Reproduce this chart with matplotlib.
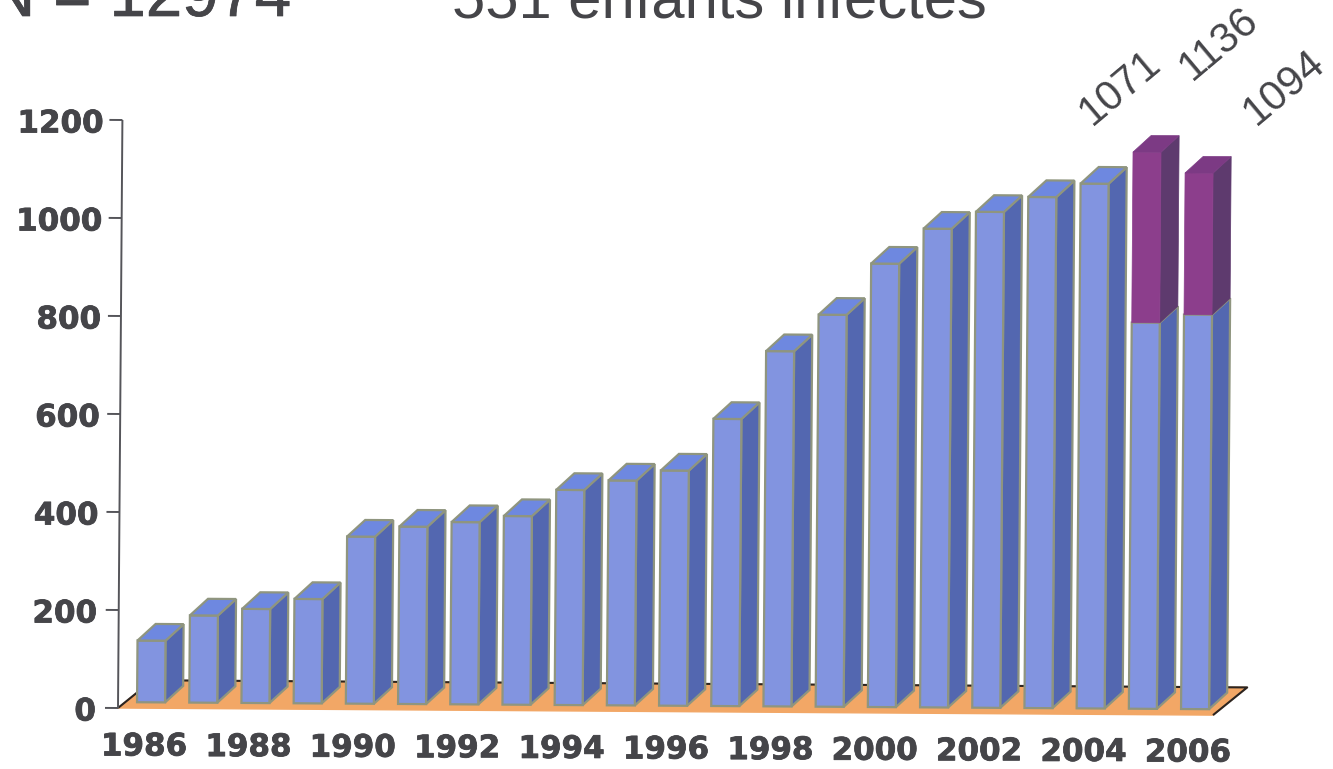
import matplotlib
matplotlib.use("Agg")
import matplotlib.pyplot as plt
import matplotlib.patheffects as pe
from matplotlib.patches import Polygon
from matplotlib.transforms import Affine2D

# Data
years = list(range(1986, 2007))
blue_values = [126, 178, 192, 213, 341, 362, 372, 385, 439, 459, 480, 586,
               725, 800, 905, 977, 1012, 1043, 1071, 788, 805]
purple_values = [0] * 19 + [348, 289]
y_ticks = [0, 200, 400, 600, 800, 1000, 1200]
value_labels = ["1071", "1136", "1094"]
title_left = "N = 12974"
title_right = "551 enfants infectés"

# Colours
TEXT = "#454549"
BLUE = ("#8294E0", "#5367B0", "#6E88E0")      # front, side, top
PURPLE = ("#8C3E8C", "#5E3A6E", "#7C3A84")
EDGE = "#8F957F"
FLOOR = "#F2A766"

W, H = 1333, 769
fig = plt.figure(figsize=(W / 100, H / 100), dpi=100, facecolor="white")

# Axes box in pixels
left, right, top, bottom = 118, 1213, 120, 708
ax = fig.add_axes([left / W, 1 - bottom / H, (right - left) / W, (bottom - top) / H])
px_per_year = 52.2
ax.set_xlim(-(151 - left) / px_per_year, (right - 151) / px_per_year)
ax.set_ylim(0, 1200)
for s in ax.spines.values():
    s.set_visible(False)
ax.patch.set_visible(False)

# Slight clockwise tilt of the whole plot
ox, oy = left, H - bottom
tilt = (Affine2D().translate(-ox, -oy)
        + Affine2D.from_values(1, -0.0065, 0.0075, 1, 0, 0)
        + Affine2D().translate(ox, oy))
trans = ax.transData + tilt


def poly(points, face, edge=None, lw=1.0, z=2):
    ax.add_patch(Polygon(points, closed=True, facecolor=face,
                         edgecolor=edge if edge else face, linewidth=lw,
                         transform=trans, clip_on=False, zorder=z,
                         joinstyle="miter"))


def line(xs, ys, color="#333338", lw=1.5, z=1.5):
    ax.plot(xs, ys, color=color, lw=lw, transform=trans, clip_on=False,
            zorder=z, solid_capstyle="butt")


# Floor of the 3D plot
x0, x1 = ax.get_xlim()
fdx, fdy = 34 / px_per_year, 57
poly([(x0, 0), (x1, 0), (x1 + fdx, fdy), (x0 + fdx, fdy)], FLOOR, z=1)
line([x0, x0 + fdx, x1 + fdx, x1], [0, fdy, fdy, 0], color="#2b2420")

# Value axis
line([x0, x0], [0, 1200], color="#55555a", lw=1.4)
for v in y_ticks:
    line([x0 - 13 / px_per_year, x0], [v, v], color="#55555a", lw=1.4)

# 3D columns
half = 14 / px_per_year
dx, dy = 18 / px_per_year, 34
lift = 12


def column(i, y_low, y_high, colors, with_top, edge, lw):
    front, side, cap = colors
    xl, xr = i - half, i + half
    poly([(xr, y_low), (xr + dx, y_low + dy), (xr + dx, y_high + dy), (xr, y_high)],
         side, edge, lw)
    poly([(xl, y_low), (xr, y_low), (xr, y_high), (xl, y_high)], front, edge, lw)
    if with_top:
        poly([(xl, y_high), (xr, y_high), (xr + dx, y_high + dy), (xl + dx, y_high + dy)],
             cap, edge, lw)


for i, (b, p) in enumerate(zip(blue_values, purple_values)):
    column(i, lift, lift + b, BLUE, p == 0, EDGE, 1.6)
    if p:
        # the upper segment has no visible outline
        column(i, lift + b, lift + b + p, PURPLE, True, None, 0.5)

# Axis labels as tick labels, shifted to follow the tilt
ax.set_yticks(y_ticks)
ax.set_yticklabels([str(v) for v in y_ticks])
ax.set_xticks(range(0, 21, 2))
ax.set_xticklabels([str(y) for y in years[::2]])
ax.tick_params(axis="both", length=0, labelsize=22.3, labelcolor=TEXT, pad=0)
heavy = [pe.withStroke(linewidth=0.6, foreground=TEXT)]
for lab in ax.get_yticklabels() + ax.get_xticklabels():
    lab.set_fontfamily("DejaVu Sans")
    lab.set_fontweight("bold")
    lab.set_path_effects(heavy)

# Offsets in pixels
for v, lab in zip(y_ticks, ax.get_yticklabels()):
    off = Affine2D().translate(-22 + 7.8 * v / 1200, -1)
    lab.set_transform(lab.get_transform() + off)
for n, lab in enumerate(ax.get_xticklabels()):
    off = Affine2D().translate(-7, -39 - 0.6 * n)
    lab.set_transform(lab.get_transform() + off)
    lab.set_va("center")

# Column value annotations
label_xy = [(1120, 88), (1219, 44), (1284, 88)]
for s, (xp, yp) in zip(value_labels, label_xy):
    fig.text(xp / W, 1 - yp / H, s, rotation=40, ha="center", va="center",
             fontsize=30, family="Liberation Sans", color=TEXT)

# Headings running off the top edge
fig.text(-12 / W, 1 - 16 / H, title_left, fontsize=47, family="Liberation Sans",
         color=TEXT, ha="left", va="baseline",
         path_effects=[pe.withStroke(linewidth=0.5, foreground=TEXT)])
fig.text(452 / W, 1 - 18 / H, title_right, fontsize=43, family="Liberation Sans",
         color=TEXT, ha="left", va="baseline")

fig.savefig("out.png", dpi=100, facecolor="white")
